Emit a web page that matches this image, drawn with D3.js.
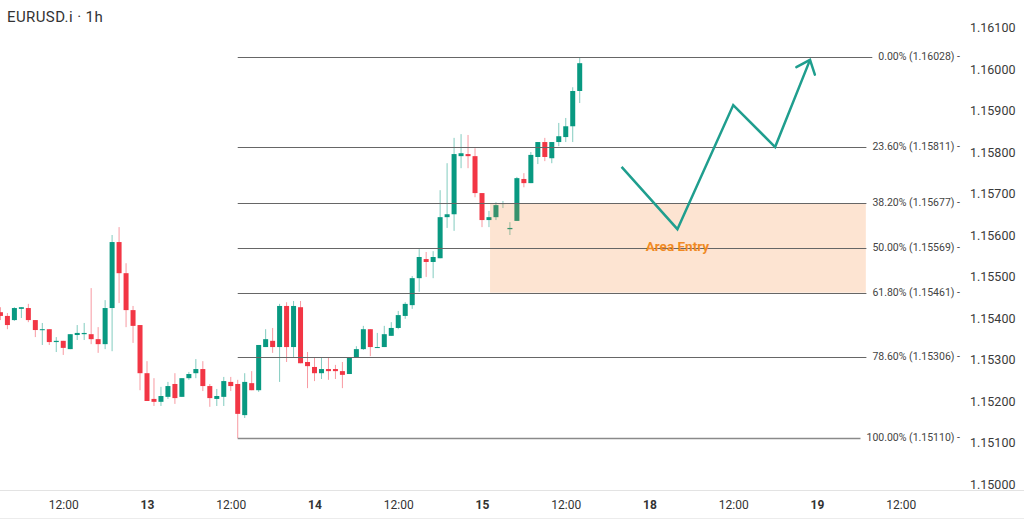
<!DOCTYPE html>
<html>
<head>
<meta charset="utf-8">
<script src="https://cdn.jsdelivr.net/npm/d3@7"></script>
<style>
  html, body { margin: 0; padding: 0; background: #fff; }
  svg { display: block; font-family: Roboto, "Noto Sans", sans-serif; }
</style>
</head>
<body>
<div id="chart"></div>
<script>
// EURUSD.i 1h candles. Hour index 0 = 12th 00:00, weekend hours skipped (18th starts at 96)
const firstHour = 3

const opens = [
  1.15414, 1.15405, 1.15395, 1.15422, 1.15424, 1.15395, 1.15371, 1.15373, 1.15342, 1.15345,
  1.15325, 1.15359, 1.15361, 1.15361, 1.15349, 1.15337, 1.15424, 1.15583, 1.15508, 1.15419,
  1.15383, 1.15267, 1.15205, 1.15198, 1.15210, 1.15241, 1.15210, 1.15255, 1.15267, 1.15277,
  1.15236, 1.15205, 1.15210, 1.15246, 1.15241, 1.15166, 1.15243, 1.15226, 1.15330, 1.15345,
  1.15330, 1.15429, 1.15330, 1.15426, 1.15294, 1.15282, 1.15267, 1.15277, 1.15277, 1.15272,
  1.15265, 1.15304, 1.15325, 1.15373, 1.15328, 1.15330, 1.15357, 1.15376, 1.15405, 1.15431,
  1.15496, 1.15542, 1.15535, 1.15544, 1.15643, 1.15650, 1.15790, 1.15795, 1.15790, 1.15701,
  1.15636, 1.15643, 1.15675, 1.15614, 1.15634, 1.15735, 1.15725, 1.15788, 1.15824, 1.15785,
  1.15824, 1.15836, 1.15862, 1.15947
]
const highs = [
  1.15426, 1.15412, 1.15426, 1.15426, 1.15434, 1.15395, 1.15388, 1.15373, 1.15354, 1.15345,
  1.15361, 1.15383, 1.15388, 1.15472, 1.15378, 1.15443, 1.15600, 1.15619, 1.15532, 1.15429,
  1.15383, 1.15296, 1.15255, 1.15234, 1.15246, 1.15267, 1.15255, 1.15270, 1.15301, 1.15296,
  1.15241, 1.15229, 1.15258, 1.15258, 1.15251, 1.15267, 1.15272, 1.15335, 1.15373, 1.15376,
  1.15434, 1.15438, 1.15441, 1.15441, 1.15318, 1.15304, 1.15306, 1.15304, 1.15287, 1.15294,
  1.15304, 1.15332, 1.15381, 1.15373, 1.15364, 1.15381, 1.15390, 1.15417, 1.15438, 1.15501,
  1.15566, 1.15559, 1.15561, 1.15708, 1.15773, 1.15834, 1.15843, 1.15841, 1.15809, 1.15701,
  1.15658, 1.15679, 1.15682, 1.15631, 1.15740, 1.15749, 1.15800, 1.15824, 1.15834, 1.15824,
  1.15870, 1.15882, 1.15956, 1.16028
]
const lows = [
  1.15395, 1.15373, 1.15393, 1.15400, 1.15390, 1.15354, 1.15335, 1.15335, 1.15318, 1.15311,
  1.15325, 1.15347, 1.15347, 1.15337, 1.15316, 1.15325, 1.15320, 1.15436, 1.15378, 1.15340,
  1.15226, 1.15200, 1.15188, 1.15188, 1.15205, 1.15193, 1.15210, 1.15251, 1.15255, 1.15224,
  1.15186, 1.15188, 1.15188, 1.15224, 1.15110, 1.15159, 1.15226, 1.15222, 1.15330, 1.15316,
  1.15246, 1.15294, 1.15306, 1.15291, 1.15231, 1.15248, 1.15253, 1.15251, 1.15253, 1.15231,
  1.15265, 1.15304, 1.15323, 1.15308, 1.15328, 1.15330, 1.15357, 1.15373, 1.15398, 1.15422,
  1.15463, 1.15499, 1.15496, 1.15544, 1.15617, 1.15610, 1.15761, 1.15761, 1.15691, 1.15619,
  1.15619, 1.15636, 1.15665, 1.15600, 1.15634, 1.15715, 1.15725, 1.15771, 1.15778, 1.15773,
  1.15814, 1.15824, 1.15824, 1.15918
]
const closes = [
  1.15405, 1.15383, 1.15424, 1.15426, 1.15395, 1.15371, 1.15373, 1.15342, 1.15345, 1.15328,
  1.15361, 1.15364, 1.15364, 1.15349, 1.15337, 1.15424, 1.15583, 1.15508, 1.15419, 1.15381,
  1.15267, 1.15200, 1.15198, 1.15212, 1.15236, 1.15207, 1.15255, 1.15265, 1.15277, 1.15236,
  1.15207, 1.15212, 1.15248, 1.15236, 1.15169, 1.15246, 1.15226, 1.15335, 1.15349, 1.15330,
  1.15429, 1.15330, 1.15429, 1.15291, 1.15284, 1.15267, 1.15277, 1.15272, 1.15272, 1.15263,
  1.15304, 1.15325, 1.15373, 1.15330, 1.15330, 1.15361, 1.15376, 1.15407, 1.15434, 1.15496,
  1.15547, 1.15535, 1.15547, 1.15643, 1.15650, 1.15795, 1.15797, 1.15790, 1.15701, 1.15636,
  1.15643, 1.15672, 1.15677, 1.15617, 1.15737, 1.15725, 1.15793, 1.15824, 1.15788, 1.15824,
  1.15838, 1.15862, 1.15947, 1.16014
]

// Fibonacci retracement
const fibRatios = [0, 0.236, 0.382, 0.5, 0.618, 0.786, 1]
const fibPrices = [1.16028, 1.15811, 1.15677, 1.15569, 1.15461, 1.15306, 1.15110]
const fibStartHour = 37
const fibEndHour = 127

// entry zone (between 38.2% and 61.8%)
const zoneStartHour = 73.15
const zoneEndHour = 127
const zoneTop = 1.15677
const zoneBottom = 1.15461

// projected path
const pathHours = [92, 100, 108, 114, 119]
const pathPrices = [1.15764, 1.15614, 1.15913, 1.15812, 1.16022]

// axes
const priceTicks = [1.150, 1.151, 1.152, 1.153, 1.154, 1.155, 1.156, 1.157, 1.158, 1.159, 1.160, 1.161]
const timeTicks = [12, 24, 36, 48, 60, 72, 84, 96, 108, 120, 132]
const timeLabels = ["12:00", "13", "12:00", "14", "12:00", "15", "12:00", "18", "12:00", "19", "12:00"]

const width = 1024
const height = 520
const up = "#089981"
const down = "#f23645"

const x = d3.scaleLinear().domain([24, 120]).range([147, 817])
const y = d3.scaleLinear().domain([1.15, 1.161]).range([484, 27.5])

const svg = d3.select("#chart").append("svg")
  .attr("width", width)
  .attr("height", height)

// bottom axis separators
svg.append("line").attr("x1", 0).attr("x2", width).attr("y1", 490.5).attr("y2", 490.5)
  .attr("stroke", "#e3e3e3")
svg.append("line").attr("x1", 0).attr("x2", width).attr("y1", 518.5).attr("y2", 518.5)
  .attr("stroke", "#ececec")

// Candles
const candles = opens.map((o, i) => ({
  h: firstHour + i, o, hi: highs[i], lo: lows[i], c: closes[i]
}))

const cg = svg.append("g")
candles.forEach(d => {
  const col = d.c >= d.o ? up : down
  const cx = x(d.h)
  cg.append("line")
    .attr("x1", cx).attr("x2", cx)
    .attr("y1", y(d.hi)).attr("y2", y(d.lo))
    .attr("stroke", col)
    .attr("stroke-opacity", 0.5)
    .attr("stroke-width", 1)
  const top = y(Math.max(d.o, d.c))
  const bh = Math.max(1, Math.abs(y(d.o) - y(d.c)))
  cg.append("rect")
    .attr("x", cx - 2.5).attr("y", top)
    .attr("width", 5).attr("height", bh)
    .attr("fill", col)
})

// Entry zone, drawn over the candles
svg.append("rect")
  .attr("x", x(zoneStartHour))
  .attr("y", y(zoneTop))
  .attr("width", x(zoneEndHour) - x(zoneStartHour))
  .attr("height", y(zoneBottom) - y(zoneTop))
  .attr("fill", "#f47a1f")
  .attr("fill-opacity", 0.2)

// Fib levels
const fg = svg.append("g")
fibPrices.forEach((p, i) => {
  const yy = Math.round(y(p)) + 0.5
  const label = fg.append("text")
    .attr("x", 960)
    .attr("y", yy)
    .attr("text-anchor", "end")
    .attr("dominant-baseline", "middle")
    .attr("font-size", "10.5px")
    .attr("fill", "#444")
    .text(`${(fibRatios[i] * 100).toFixed(2)}% (${p.toFixed(5)}) -`)
  const tx = 960 - label.node().getComputedTextLength()
  fg.insert("line", "text")
    .attr("x1", x(fibStartHour)).attr("x2", tx - 6)
    .attr("y1", yy).attr("y2", yy)
    .attr("stroke", i === fibPrices.length - 1 ? "#8a8a8a" : "#666")
    .attr("stroke-width", i === fibPrices.length - 1 ? 1.5 : 1)
})

// Projected path with open arrow head
const pts = pathHours.map((h, i) => [x(h), y(pathPrices[i])])
const teal = "#1f9e8e"
svg.append("path")
  .attr("d", d3.line()(pts))
  .attr("fill", "none")
  .attr("stroke", teal)
  .attr("stroke-width", 2.5)
  .attr("stroke-linejoin", "miter")

const [ax, ay] = pts[pts.length - 1]
const [bx, by] = pts[pts.length - 2]
const ang = Math.atan2(by - ay, bx - ax)
const spread = 40 * Math.PI / 180
const barb = 15.5
const arrow = [
  [ax + barb * Math.cos(ang - spread), ay + barb * Math.sin(ang - spread)],
  [ax, ay],
  [ax + barb * Math.cos(ang + spread), ay + barb * Math.sin(ang + spread)]
]
svg.append("path")
  .attr("d", d3.line()(arrow))
  .attr("fill", "none")
  .attr("stroke", teal)
  .attr("stroke-width", 2.5)
  .attr("stroke-linecap", "round")

// Area label under the trough
svg.append("text")
  .attr("x", x(pathHours[1]))
  .attr("y", y(1.15569))
  .attr("text-anchor", "middle")
  .attr("dominant-baseline", "middle")
  .attr("font-size", "13.5px")
  .attr("font-weight", "bold")
  .attr("fill", "#f08a24")
  .text("Area Entry")

// Price axis
const yAxis = d3.axisRight(y)
  .tickValues(priceTicks)
  .tickFormat(d3.format(".5f"))
  .tickSize(0)
  .tickPadding(0)
svg.append("g")
  .attr("transform", "translate(970,0)")
  .call(yAxis)
  .call(g => g.select(".domain").remove())
  .call(g => g.selectAll("text")
    .attr("font-size", "12.5px")
    .attr("font-family", "Roboto, sans-serif")
    .attr("fill", "#3a3a3a"))

// Time axis
const xAxis = d3.axisBottom(x)
  .tickValues(timeTicks)
  .tickFormat((d, i) => timeLabels[i])
  .tickSize(0)
  .tickPadding(0)
svg.append("g")
  .attr("transform", "translate(0,505)")
  .call(xAxis)
  .call(g => g.select(".domain").remove())
  .call(g => g.selectAll("text")
    .attr("dy", "0.35em")
    .attr("font-size", "12px")
    .attr("font-family", "Roboto, sans-serif")
    .attr("fill", "#333")
    .attr("font-weight", (d, i) => timeLabels[i].includes(":") ? "normal" : "bold"))

// Title
svg.append("text")
  .attr("x", 7)
  .attr("y", 22)
  .attr("font-size", "15px")
  .attr("letter-spacing", "0.4px")
  .attr("fill", "#333")
  .text("EURUSD.i · 1h")
</script>
</body>
</html>
